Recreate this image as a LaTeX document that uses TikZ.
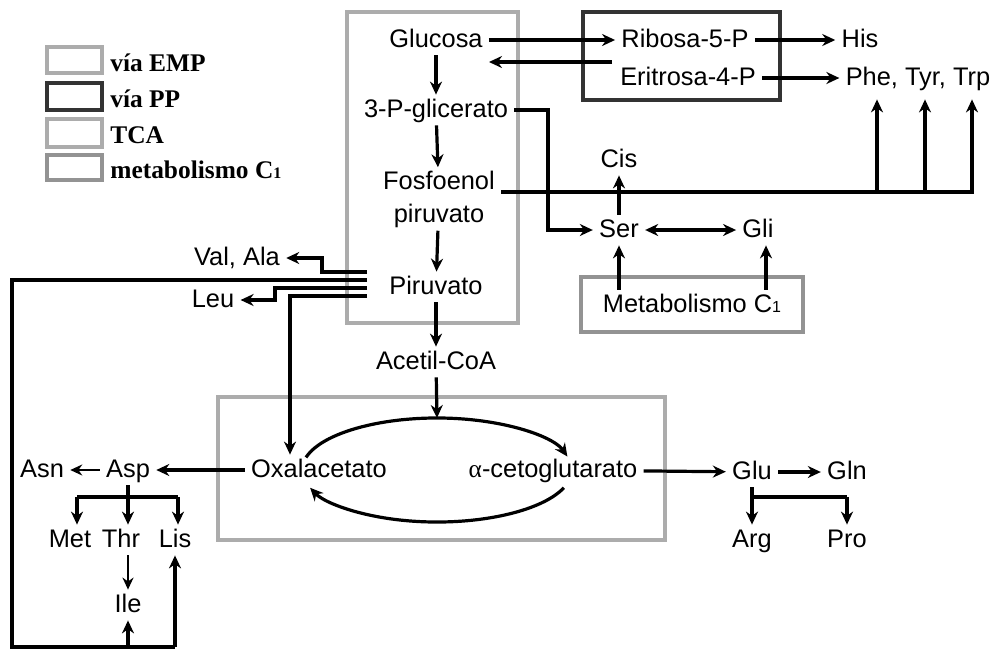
\documentclass[tikz,border=0pt]{standalone}
\usepackage{fontspec}
\setmainfont{Liberation Sans}
\newfontfamily\legfont{Liberation Serif}
\usepackage{tikz}
\usetikzlibrary{arrows.meta}
\newcommand{\Cuno}{C{\fontsize{8}{8}\selectfont 1}}

\begin{document}
\begin{tikzpicture}[x=0.5pt,y=-0.5pt,
  lbl/.style={font=\fontsize{12.7}{16.5}\selectfont,inner xsep=3pt,inner ysep=1.5pt,
              text height=9.5pt,text depth=2.5pt},
  lbl2/.style={font=\fontsize{12.7}{16.5}\selectfont,inner xsep=3pt,inner ysep=1.5pt,
               align=center},
  leg/.style={font=\legfont\bfseries\fontsize{12.7}{15}\selectfont,anchor=base west,
              inner sep=0pt},
  emp/.style={draw=gray!65,line width=2.4pt},
  pp/.style={draw=black!80,line width=2.4pt},
  tca/.style={draw=gray!65,line width=2.4pt},
  cuno/.style={draw=gray!85,line width=2.4pt},
  ln/.style={line width=1.6pt},
  arr/.style={-{Stealth[length=6.5pt,width=6pt]},line width=1.6pt},
  darr/.style={{Stealth[length=6.5pt,width=6pt]}-{Stealth[length=6.5pt,width=6pt]},line width=1.6pt},
  tarr/.style={-{Stealth[length=6pt,width=5.5pt]},line width=1pt}
]
  \useasboundingbox (0,0) rectangle (997,649);

  \draw[emp] (47,47) rectangle (102,73);
  \draw[pp] (47,83) rectangle (102,110);
  \draw[tca] (47,119) rectangle (102,147);
  \draw[cuno] (47,155) rectangle (102,180);
  \node[leg] (lemp) at (110,71) {vía EMP};
  \node[leg] (lpp) at (110,107) {vía PP};
  \node[leg] (ltca) at (110,143) {TCA};
  \node[leg] (lc1) at (110,178) {metabolismo \Cuno};

  \draw[emp] (347,12) rectangle (518,323);
  \draw[pp] (583,12) rectangle (780,100);
  \draw[cuno] (581,277) rectangle (803,332);
  \draw[tca] (218,397) rectangle (665,540);

  \node[lbl] (gluc) at (436,40) {Glucosa};
  \node[lbl] (pgli) at (436,110) {3-P-glicerato};
  \node[lbl2] (fosf) at (439,199) {Fosfoenol\\piruvato};
  \node[lbl] (piru) at (436,287) {Piruvato};
  \node[lbl] (acet) at (436,362) {Acetil-CoA};
  \node[lbl] (ribo) at (685,40) {Ribosa-5-P};
  \node[lbl] (erit) at (688,78) {Eritrosa-4-P};
  \node[lbl] (his) at (860,40) {His};
  \node[lbl] (phe) at (918,78) {Phe, Tyr, Trp};
  \node[lbl] (cis) at (619,160) {Cis};
  \node[lbl] (ser) at (619,230) {Ser};
  \node[lbl] (gli) at (758,230) {Gli};
  \node[lbl] (meta) at (692,305) {Metabolismo \Cuno};
  \node[lbl] (vala) at (237,258) {Val, Ala};
  \node[lbl] (leu) at (213,300) {Leu};
  \node[lbl] (oxal) at (319,470) {Oxalacetato};
  \node[lbl] (ceto) at (553,470) {{\legfont α}-cetoglutarato};
  \node[lbl] (asp) at (128,470) {Asp};
  \node[lbl] (asn) at (42,470) {Asn};
  \node[lbl] (met) at (70,540) {Met};
  \node[lbl] (thr) at (121,540) {Thr};
  \node[lbl] (lis) at (175,540) {Lis};
  \node[lbl] (ile) at (128,605) {Ile};
  \node[lbl] (glu) at (752,472) {Glu};
  \node[lbl] (gln) at (847,472) {Gln};
  \node[lbl] (arg) at (752,540) {Arg};
  \node[lbl] (pro) at (847,540) {Pro};

  \coordinate (e1) at (612,62);
  \coordinate (k1) at (548,230);
  \coordinate (j1) at (877,192); \coordinate (j2) at (925,192); \coordinate (j3) at (972,192);
  \coordinate (p1) at (367,272); \coordinate (p2) at (367,280);
  \coordinate (p3) at (367,288); \coordinate (p4) at (367,296);
  \coordinate (v1) at (322,258); \coordinate (l1) at (275,300); \coordinate (o1) at (290,296);
  \coordinate (b1) at (12,647); \coordinate (a1) at (77,497); \coordinate (a2) at (178,497);
  \coordinate (g2) at (847,497);
  \coordinate (tcac) at (437,470);

  \draw[arr] (gluc) -- (ribo); \draw[arr] (e1) -- (e1 -| gluc.east);
  \draw[arr] (gluc) -- (pgli); \draw[arr] (pgli) -- (fosf);
  \draw[arr] (fosf) -- (piru); \draw[arr] (piru) -- (acet);
  \draw[arr] (ribo) -- (his); \draw[arr] (erit) -- (phe);
  \draw[arr] (pgli.east) -| (k1) -- (ser.west);
  \draw[arr,shorten >=3pt] ([yshift=3.5pt]fosf.east) -- (j3) -- (j3 |- phe.south);
  \draw[arr,shorten >=3pt] (j1) -- (j1 |- phe.south);
  \draw[arr,shorten >=3pt] (j2) -- (j2 |- phe.south);
  \draw[arr] (ser) -- (cis); \draw[darr] (ser) -- (gli);
  \draw[arr] (ser |- meta.north) -- (ser.south);
  \draw[arr] ([xshift=4pt]gli.south |- meta.north) -- ([xshift=4pt]gli.south);

  \draw[arr] (p1) -| (v1) -- (vala.east);
  \draw[arr] (p3) -| (l1) -- (leu.east);
  \draw[arr] (p4) -- (o1) -- (o1 |- oxal.north);
  \draw[ln] (p2) -| (b1) -- (lis.south |- b1);
  \draw[arr] (lis.south |- b1) -- (lis.south);
  \draw[arr] (ile.south |- b1) -- (ile.south);

  \draw[arr] (acet) -- (437,418);
  \draw[arr] ([shift={(194:135 and 52)}]tcac) arc[start angle=194,end angle=345,x radius=135,y radius=52];
  \draw[arr] ([shift={(20:135 and 52)}]tcac) arc[start angle=20,end angle=160,x radius=135,y radius=52];

  \draw[arr] (oxal) -- (asp); \draw[tarr] (asp) -- (asn);
  \draw[ln] (asp.south) -- (asp.south |- a1); \draw[ln] (a1) -- (a2);
  \draw[arr] (a1) -- (a1 |- met.north); \draw[arr] (a2) -- (a2 |- lis.north);
  \draw[arr] (asp.south) -- (asp.south |- thr.north);
  \draw[tarr] (thr.south -| ile) -- (ile.north);

  \draw[arr] (ceto) -- (glu); \draw[arr] (glu) -- (gln);
  \draw[arr] (glu) -- (arg); \draw[ln] (glu.south |- g2) -- (g2);
  \draw[arr] (g2) -- (pro.north);
\end{tikzpicture}
\end{document}
